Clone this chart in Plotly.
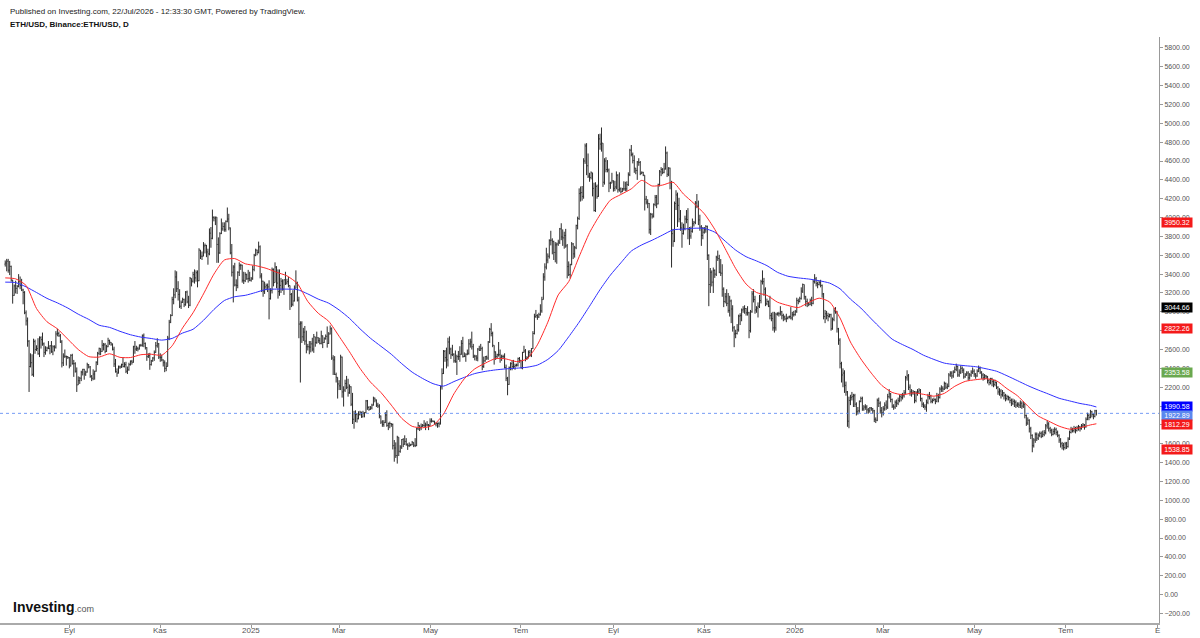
import pandas as pd
import plotly.graph_objects as go

# ---------------- data ----------------
month_starts = ['2024-07-20', '2024-08-01', '2024-09-01', '2024-10-01', '2024-11-01', '2024-12-01',
                '2025-01-01', '2025-02-01', '2025-03-01', '2025-04-01', '2025-05-01', '2025-06-01',
                '2025-07-01', '2025-08-01', '2025-09-01', '2025-10-01', '2025-11-01', '2025-12-01',
                '2026-01-01', '2026-02-01', '2026-03-01', '2026-04-01', '2026-05-01', '2026-06-01',
                '2026-07-01']
first_open = 3506

close_rows = [
    [3518, 3537, 3442, 3482, 3336, 3174, 3275, 3249, 3270, 3320, 3280, 3232],
    [3205, 2990, 2904, 2689, 2420, 2460, 2337, 2684, 2600, 2610, 2555, 2725, 2705, 2660, 2570, 2590, 2615, 2610, 2640, 2575,
     2630, 2625, 2765, 2770, 2745, 2680, 2458, 2530, 2528, 2525, 2515],
    [2425, 2538, 2450, 2450, 2370, 2225, 2270, 2295, 2360, 2390, 2340, 2360, 2440, 2415, 2315, 2295, 2340, 2370, 2465, 2560,
     2612, 2580, 2645, 2650, 2580, 2630, 2695, 2677, 2658, 2603],
    [2447, 2364, 2350, 2415, 2415, 2440, 2420, 2440, 2370, 2385, 2440, 2475, 2465, 2630, 2605, 2610, 2605, 2645, 2645, 2745,
     2665, 2620, 2525, 2535, 2440, 2480, 2510, 2570, 2640, 2660, 2520],
    [2515, 2490, 2460, 2400, 2420, 2720, 2890, 2960, 3130, 3180, 3370, 3245, 3185, 3060, 3100, 3130, 3075, 3210, 3105, 3070,
     3355, 3325, 3395, 3360, 3415, 3330, 3655, 3590, 3590, 3700],
    [3705, 3635, 3615, 3835, 3780, 4000, 3995, 4005, 3715, 3625, 3830, 3880, 3905, 3875, 3960, 3985, 3890, 3625, 3420, 3475,
     3285, 3280, 3420, 3490, 3495, 3335, 3330, 3395, 3350, 3355, 3335],
    [3350, 3450, 3600, 3655, 3630, 3690, 3380, 3325, 3220, 3265, 3280, 3265, 3140, 3225, 3450, 3310, 3475, 3305, 3215, 3280,
     3325, 3240, 3340, 3305, 3320, 3280, 3185, 3080, 3115, 3250, 3300],
    [3125, 2870, 2880, 2735, 2785, 2690, 2630, 2630, 2625, 2660, 2605, 2735, 2675, 2725, 2695, 2665, 2745, 2675, 2715, 2740,
     2665, 2765, 2820, 2510, 2490, 2335, 2305, 2235],
    [2215, 2520, 2150, 2170, 2240, 2200, 2140, 2205, 2020, 1860, 1920, 1910, 1865, 1910, 1935, 1885, 1925, 1930, 2055, 1985,
     1965, 1980, 2010, 2085, 2065, 2010, 2000, 1895, 1830, 1805, 1825],
    [1905, 1795, 1815, 1815, 1805, 1580, 1555, 1475, 1670, 1520, 1565, 1645, 1595, 1625, 1590, 1580, 1585, 1590, 1615, 1585,
     1580, 1760, 1795, 1770, 1785, 1795, 1790, 1800, 1800, 1795],
    [1840, 1840, 1835, 1810, 1815, 1815, 1810, 2205, 2345, 2580, 2515, 2490, 2680, 2605, 2545, 2550, 2480, 2470, 2525, 2525,
     2550, 2665, 2525, 2530, 2550, 2560, 2660, 2680, 2630, 2530, 2530],
    [2510, 2605, 2590, 2610, 2420, 2480, 2525, 2510, 2680, 2815, 2770, 2645, 2575, 2525, 2545, 2545, 2510, 2525, 2525, 2410,
     2295, 2230, 2410, 2450, 2420, 2420, 2430, 2435, 2505, 2485],
    [2405, 2570, 2585, 2505, 2515, 2570, 2540, 2610, 2770, 2950, 2960, 2945, 2970, 3010, 3130, 3370, 3475, 3550, 3590, 3755,
     3760, 3745, 3630, 3710, 3720, 3740, 3880, 3795, 3785, 3810, 3700],
    [3480, 3395, 3500, 3720, 3615, 3680, 3915, 3990, 4255, 4265, 4225, 4600, 4760, 4550, 4440, 4425, 4475, 4310, 4075, 4330,
     4225, 4835, 4780, 4790, 4375, 4600, 4510, 4505, 4365, 4365, 4390],
    [4310, 4325, 4450, 4295, 4305, 4275, 4305, 4305, 4305, 4350, 4455, 4715, 4670, 4605, 4525, 4500, 4590, 4585, 4470, 4480,
     4450, 4195, 4165, 4150, 3875, 4035, 4015, 4140, 4215, 4145],
    [4350, 4485, 4510, 4480, 4515, 4685, 4460, 4525, 4370, 3830, 3750, 4150, 4240, 4130, 3985, 3890, 3830, 3885, 3985, 3980,
     3875, 3805, 3855, 3935, 3950, 4155, 4120, 3975, 3900, 3810, 3845],
    [3870, 3905, 3600, 3290, 3420, 3315, 3440, 3400, 3580, 3565, 3420, 3410, 3240, 3110, 3160, 3090, 3015, 3115, 3030, 2830,
     2765, 2770, 2810, 2955, 2960, 3020, 3030, 3035, 2990, 2990],
    [2800, 3000, 3190, 3130, 3020, 3040, 3060, 3120, 3320, 3320, 3240, 3085, 3110, 3060, 2960, 2930, 2830, 2830, 2975, 2980,
     2980, 3000, 2960, 2945, 2925, 2930, 2945, 2950, 2935, 2970, 2970],
    [3000, 3120, 3110, 3140, 3220, 3290, 3160, 3110, 3090, 3080, 3120, 3090, 3320, 3350, 3300, 3290, 3310, 3280, 3190, 2950,
     2980, 2960, 2950, 2970, 2820, 2920, 3010, 3000, 2820, 2700, 2450],
    [2330, 2350, 2220, 2150, 1840, 2060, 2090, 2100, 2110, 2020, 1940, 1950, 2050, 2080, 1970, 1990, 1990, 1960, 1950, 1980,
     1970, 1950, 1860, 1850, 2060, 2030, 1950, 1930],
    [1970, 2010, 1990, 2100, 2130, 2070, 2000, 1990, 2040, 2030, 2060, 2100, 2090, 2110, 2140, 2300, 2320, 2200, 2150, 2140,
     2150, 2060, 2140, 2150, 2170, 2080, 2020, 2000, 1990, 2040, 2100],
    [2110, 2050, 2060, 2070, 2050, 2110, 2090, 2180, 2190, 2180, 2240, 2200, 2210, 2330, 2350, 2320, 2360, 2390, 2420, 2330,
     2360, 2400, 2380, 2310, 2330, 2350, 2300, 2330, 2360, 2370],
    [2340, 2320, 2370, 2400, 2360, 2330, 2300, 2320, 2310, 2270, 2250, 2290, 2260, 2230, 2250, 2200, 2150, 2160, 2120, 2140,
     2110, 2080, 2100, 2090, 2060, 2030, 2050, 2040, 2010, 2020, 2010],
    [2030, 2000, 2020, 1900, 1820, 1850, 1760, 1690, 1580, 1640, 1700, 1660, 1690, 1710, 1680, 1700, 1720, 1790, 1810, 1760,
     1740, 1700, 1730, 1750, 1720, 1690, 1640, 1600, 1580, 1560],
    [1600, 1570, 1650, 1720, 1750, 1740, 1760, 1740, 1770, 1780, 1760, 1790, 1800, 1780, 1860, 1900, 1880, 1940, 1910, 1890,
     1950, 1922.89],
]

high_rows = [
    [3545, 3562, 3562, 3540, 3490, 3340, 3290, 3330, 3285, 3400, 3375, 3350],
    [3245, 3220, 3015, 2940, 2700, 2560, 2550, 2715, 2705, 2645, 2720, 2740, 2740, 2780, 2675, 2635, 2630, 2690, 2645, 2690,
     2645, 2645, 2795, 2820, 2790, 2765, 2700, 2560, 2600, 2535, 2530],
    [2520, 2550, 2555, 2490, 2465, 2410, 2315, 2310, 2375, 2395, 2395, 2375, 2460, 2445, 2425, 2330, 2390, 2375, 2475, 2575,
     2620, 2610, 2700, 2670, 2670, 2650, 2725, 2705, 2680, 2665],
    [2630, 2500, 2400, 2430, 2430, 2450, 2520, 2465, 2470, 2420, 2460, 2485, 2490, 2640, 2690, 2640, 2630, 2655, 2660, 2760,
     2770, 2675, 2625, 2560, 2565, 2490, 2520, 2590, 2680, 2720, 2670],
    [2560, 2545, 2495, 2485, 2465, 2745, 2915, 2975, 3160, 3250, 3440, 3430, 3325, 3240, 3120, 3150, 3140, 3220, 3225, 3170,
     3370, 3355, 3425, 3450, 3440, 3440, 3675, 3650, 3640, 3740],
    [3725, 3710, 3670, 3885, 3900, 4085, 4015, 4010, 4005, 3790, 3845, 3990, 3950, 3950, 3970, 4107, 4040, 3895, 3720, 3495,
     3520, 3345, 3430, 3525, 3510, 3500, 3425, 3420, 3405, 3445, 3425],
    [3370, 3490, 3615, 3670, 3660, 3745, 3705, 3410, 3330, 3320, 3300, 3300, 3335, 3250, 3470, 3460, 3525, 3485, 3450, 3450,
     3360, 3345, 3345, 3425, 3350, 3370, 3240, 3200, 3230, 3280, 3440],
    [3320, 3160, 2900, 2900, 2830, 2850, 2800, 2660, 2690, 2690, 2725, 2765, 2735, 2790, 2730, 2725, 2800, 2750, 2730, 2760,
     2845, 2785, 2855, 2835, 2540, 2530, 2355, 2300],
    [2275, 2545, 2525, 2210, 2280, 2320, 2290, 2230, 2210, 2140, 1950, 1955, 1925, 1945, 1950, 1940, 1950, 1935, 2065, 2065,
     2000, 2000, 2025, 2100, 2090, 2070, 2035, 2020, 1900, 1850, 1850],
    [1935, 1955, 1825, 1835, 1820, 1815, 1640, 1615, 1685, 1670, 1585, 1650, 1660, 1690, 1660, 1605, 1615, 1600, 1630, 1610,
     1660, 1770, 1830, 1795, 1815, 1810, 1850, 1825, 1840, 1810],
    [1870, 1870, 1850, 1845, 1830, 1825, 1835, 2215, 2400, 2595, 2595, 2620, 2725, 2740, 2620, 2650, 2560, 2590, 2545, 2585,
     2635, 2700, 2735, 2570, 2560, 2600, 2710, 2715, 2790, 2660, 2545],
    [2540, 2615, 2640, 2660, 2630, 2525, 2530, 2535, 2690, 2830, 2880, 2790, 2645, 2580, 2555, 2680, 2600, 2545, 2545, 2560,
     2440, 2310, 2420, 2465, 2485, 2490, 2450, 2450, 2515, 2520],
    [2490, 2575, 2640, 2605, 2530, 2590, 2595, 2615, 2795, 2980, 3020, 2975, 2990, 3080, 3160, 3410, 3515, 3680, 3620, 3770,
     3860, 3780, 3755, 3740, 3735, 3765, 3890, 3940, 3875, 3850, 3880],
    [3720, 3535, 3510, 3740, 3730, 3700, 3925, 4010, 4310, 4330, 4335, 4630, 4785, 4790, 4680, 4475, 4490, 4475, 4370, 4375,
     4350, 4885, 4890, 4956, 4780, 4630, 4640, 4610, 4520, 4380, 4475],
    [4395, 4390, 4490, 4460, 4480, 4320, 4315, 4385, 4380, 4385, 4480, 4730, 4770, 4690, 4660, 4525, 4600, 4630, 4600, 4490,
     4485, 4450, 4230, 4195, 4155, 4050, 4045, 4150, 4240, 4240],
    [4360, 4505, 4535, 4525, 4580, 4755, 4700, 4535, 4530, 4390, 3880, 4170, 4290, 4265, 4210, 4080, 3950, 3935, 4020, 4080,
     4100, 3900, 3905, 3990, 3965, 4175, 4250, 4180, 4030, 3920, 3900],
    [3900, 3920, 3915, 3610, 3465, 3440, 3470, 3450, 3595, 3650, 3605, 3560, 3505, 3260, 3200, 3240, 3200, 3170, 3130, 3070,
     2850, 2810, 2870, 2970, 2985, 3035, 3060, 3070, 3040, 3060],
    [3000, 3020, 3220, 3240, 3170, 3060, 3100, 3180, 3340, 3440, 3360, 3260, 3140, 3120, 3170, 2990, 3000, 3000, 2990, 2995,
     3000, 3060, 3010, 2980, 2960, 2980, 2950, 2960, 3050, 3000, 3010],
    [3020, 3150, 3140, 3160, 3260, 3300, 3290, 3170, 3140, 3100, 3140, 3160, 3340, 3400, 3370, 3320, 3330, 3340, 3290, 3200,
     3020, 3010, 2990, 2980, 2980, 2940, 3040, 3050, 3010, 2830, 2720],
    [2470, 2400, 2380, 2260, 2160, 2100, 2120, 2150, 2130, 2130, 2040, 1990, 2060, 2100, 2100, 2010, 2020, 2010, 1980, 1990,
     1990, 1980, 1960, 1880, 2080, 2090, 2050, 1990],
    [2000, 2040, 2060, 2130, 2180, 2140, 2080, 2020, 2060, 2070, 2090, 2120, 2130, 2140, 2170, 2320, 2380, 2340, 2230, 2180,
     2170, 2160, 2160, 2180, 2190, 2180, 2090, 2040, 2020, 2070, 2130],
    [2150, 2120, 2080, 2090, 2080, 2140, 2130, 2200, 2220, 2210, 2260, 2250, 2240, 2350, 2370, 2370, 2380, 2420, 2450, 2430,
     2390, 2430, 2420, 2400, 2350, 2370, 2370, 2350, 2380, 2410],
    [2390, 2350, 2390, 2430, 2420, 2370, 2350, 2340, 2330, 2320, 2290, 2300, 2300, 2280, 2280, 2260, 2210, 2190, 2180, 2170,
     2150, 2130, 2120, 2110, 2100, 2080, 2080, 2070, 2060, 2040, 2040],
    [2060, 2050, 2050, 2030, 1910, 1880, 1860, 1780, 1700, 1660, 1720, 1720, 1710, 1730, 1730, 1740, 1745, 1810, 1850, 1830,
     1780, 1760, 1760, 1775, 1770, 1740, 1700, 1660, 1620, 1610],
    [1620, 1620, 1670, 1740, 1780, 1770, 1790, 1780, 1790, 1800, 1790, 1810, 1820, 1810, 1880, 1930, 1920, 1960, 1950, 1920,
     1960, 1960],
]

low_rows = [
    [3480, 3430, 3415, 3390, 3320, 3087, 3170, 3195, 3190, 3260, 3240, 3220],
    [3080, 2975, 2855, 2630, 2150, 2410, 2320, 2310, 2555, 2585, 2545, 2520, 2610, 2640, 2520, 2545, 2580, 2605, 2550, 2565,
     2540, 2580, 2610, 2740, 2735, 2670, 2410, 2425, 2510, 2430, 2500],
    [2400, 2420, 2440, 2310, 2355, 2150, 2255, 2235, 2265, 2325, 2280, 2320, 2355, 2400, 2300, 2265, 2275, 2280, 2365, 2435,
     2540, 2540, 2575, 2590, 2560, 2575, 2625, 2650, 2640, 2590],
    [2415, 2355, 2310, 2345, 2395, 2405, 2410, 2410, 2350, 2340, 2375, 2430, 2440, 2460, 2555, 2585, 2580, 2600, 2630, 2630,
     2625, 2600, 2480, 2510, 2385, 2430, 2470, 2480, 2565, 2620, 2500],
    [2470, 2475, 2420, 2360, 2370, 2420, 2700, 2880, 2955, 3080, 3145, 3210, 3120, 3040, 3030, 3095, 3050, 3065, 3090, 3040,
     3060, 3270, 3310, 3300, 3320, 3260, 3325, 3560, 3550, 3590],
    [3620, 3580, 3500, 3600, 3680, 3770, 3960, 3920, 3520, 3520, 3615, 3825, 3860, 3850, 3850, 3950, 3865, 3610, 3375, 3100,
     3270, 3220, 3250, 3380, 3445, 3310, 3295, 3315, 3340, 3310, 3325],
    [3320, 3340, 3430, 3590, 3600, 3620, 3355, 3210, 3160, 3190, 3230, 3210, 2920, 3130, 3195, 3270, 3315, 3250, 3140, 3170,
     3200, 3225, 3180, 3285, 3290, 3260, 3020, 3050, 3060, 3110, 3280],
    [3110, 2720, 2250, 2670, 2690, 2650, 2560, 2590, 2550, 2570, 2580, 2565, 2630, 2660, 2670, 2655, 2655, 2615, 2670, 2705,
     2620, 2660, 2760, 2490, 2330, 2330, 2250, 2080],
    [2170, 2170, 2090, 1995, 2150, 2180, 2100, 2130, 2000, 1810, 1760, 1830, 1825, 1860, 1900, 1875, 1880, 1880, 1925, 1960,
     1950, 1960, 1965, 2005, 2040, 1990, 1980, 1870, 1810, 1780, 1780],
    [1820, 1780, 1745, 1765, 1780, 1540, 1410, 1450, 1390, 1470, 1505, 1545, 1565, 1590, 1580, 1535, 1565, 1575, 1585, 1565,
     1565, 1575, 1745, 1735, 1745, 1780, 1780, 1745, 1785, 1745],
    [1790, 1825, 1830, 1805, 1785, 1770, 1775, 1805, 2175, 2340, 2470, 2400, 2420, 2550, 2500, 2530, 2460, 2460, 2330, 2490,
     2470, 2545, 2515, 2520, 2470, 2540, 2545, 2620, 2600, 2510, 2485],
    [2480, 2475, 2585, 2590, 2380, 2405, 2470, 2490, 2490, 2670, 2740, 2625, 2440, 2490, 2505, 2525, 2460, 2480, 2500, 2400,
     2265, 2115, 2225, 2380, 2380, 2395, 2385, 2420, 2420, 2460],
    [2400, 2390, 2565, 2475, 2490, 2505, 2525, 2520, 2605, 2760, 2935, 2915, 2935, 2960, 2990, 3130, 3330, 3450, 3515, 3565,
     3705, 3610, 3550, 3525, 3510, 3700, 3720, 3760, 3700, 3670, 3680],
    [3355, 3380, 3355, 3495, 3560, 3575, 3665, 3875, 3975, 4170, 4180, 4200, 4570, 4450, 4420, 4380, 4405, 4225, 4065, 4060,
     4200, 4220, 4720, 4700, 4325, 4350, 4480, 4480, 4270, 4305, 4365],
    [4275, 4280, 4300, 4265, 4275, 4255, 4270, 4285, 4280, 4280, 4335, 4440, 4650, 4575, 4475, 4460, 4400, 4550, 4450, 4460,
     4440, 4075, 4140, 4100, 3830, 3815, 3990, 4000, 4120, 4100],
    [4140, 4330, 4440, 4460, 4470, 4510, 4430, 4440, 4300, 3470, 3690, 3740, 4080, 3900, 3950, 3860, 3680, 3820, 3865, 3940,
     3770, 3710, 3775, 3840, 3905, 3930, 4100, 3920, 3860, 3700, 3770],
    [3830, 3840, 3550, 3060, 3200, 3270, 3200, 3360, 3380, 3540, 3410, 3380, 3160, 3050, 3090, 3060, 2990, 2950, 2880, 2790,
     2625, 2720, 2760, 2790, 2860, 2900, 2990, 2980, 2960, 2960],
    [2720, 2780, 2990, 3100, 2980, 2990, 2940, 3040, 3090, 3290, 3170, 3060, 3070, 3050, 2920, 2900, 2800, 2780, 2800, 2960,
     2950, 2960, 2920, 2900, 2910, 2890, 2920, 2930, 2920, 2910, 2950],
    [2960, 2990, 3080, 3100, 3130, 3200, 3130, 3060, 3050, 3060, 3070, 3060, 3080, 3300, 3270, 3250, 3280, 3260, 3150, 2920,
     2880, 2920, 2900, 2940, 2800, 2810, 2900, 2980, 2780, 2650, 2400],
    [2250, 2200, 2140, 2110, 1780, 1765, 2010, 2060, 1990, 1990, 1900, 1910, 1930, 2040, 1950, 1950, 1960, 1920, 1920, 1930,
     1950, 1920, 1830, 1820, 1840, 1990, 1920, 1880],
    [1900, 1950, 1960, 1970, 2080, 2040, 1980, 1960, 1970, 1990, 2010, 2040, 2050, 2070, 2090, 2130, 2270, 2170, 2110, 2100,
     2120, 2030, 2040, 2110, 2130, 2050, 1990, 1980, 1960, 1940, 2020],
    [2070, 2030, 2030, 2050, 2020, 2040, 2040, 2080, 2150, 2150, 2170, 2180, 2180, 2200, 2310, 2290, 2300, 2350, 2370, 2310,
     2310, 2340, 2350, 2290, 2300, 2320, 2270, 2280, 2310, 2340],
    [2310, 2290, 2310, 2360, 2340, 2290, 2270, 2280, 2290, 2240, 2220, 2230, 2210, 2200, 2210, 2180, 2120, 2110, 2080, 2100,
     2070, 2050, 2060, 2060, 2030, 2000, 2010, 1990, 1980, 1990, 1980],
    [1980, 1970, 1980, 1870, 1790, 1800, 1720, 1650, 1510, 1560, 1610, 1630, 1640, 1670, 1660, 1670, 1680, 1700, 1760, 1730,
     1710, 1680, 1690, 1700, 1690, 1670, 1610, 1560, 1540, 1530],
    [1540, 1545, 1560, 1640, 1710, 1720, 1720, 1710, 1730, 1740, 1730, 1750, 1770, 1750, 1770, 1850, 1850, 1870, 1880, 1860,
     1880, 1900],
]

# moving averages, one value per week + last day
ma_start = '2024-07-20'
ma_last_day = '2026-07-22'
red_ma = [3360, 3350, 3280, 3035, 2895, 2820, 2710, 2600, 2525, 2520,
          2555, 2517, 2515, 2545, 2550, 2540, 2640, 2830, 2990, 3190,
          3400, 3550, 3565, 3510, 3490, 3462, 3420, 3382, 3300, 3110,
          2985, 2900, 2740, 2575, 2400, 2255, 2145, 2010, 1870, 1785,
          1770, 1795, 1915, 2130, 2290, 2395, 2455, 2505, 2500, 2472,
          2500, 2650, 2890, 3180, 3320, 3585, 3840, 4030, 4185, 4245,
          4305, 4395, 4335, 4345, 4375, 4250, 4150, 4040, 3875, 3670,
          3460, 3295, 3205, 3175, 3103, 3068, 3045, 3100, 3145, 3105,
          2935, 2680, 2500, 2350, 2220, 2145, 2120, 2140, 2125, 2105,
          2135, 2210, 2262, 2280, 2290, 2268, 2185, 2110, 2000, 1895,
          1840, 1787, 1755, 1770, 1800, 1812.29]
blue_ma = [3315, 3310, 3265, 3205, 3143, 3095, 3040, 2975, 2920, 2858,
           2835, 2793, 2757, 2732, 2717, 2700, 2718, 2775, 2815, 2910,
           3025, 3120, 3160, 3175, 3205, 3238, 3241, 3241, 3236, 3190,
           3135, 3092, 3020, 2930, 2820, 2720, 2635, 2550, 2450, 2360,
           2293, 2238, 2212, 2260, 2305, 2345, 2368, 2384, 2395, 2402,
           2412, 2435, 2495, 2590, 2735, 2890, 3060, 3235, 3390, 3520,
           3645, 3710, 3760, 3815, 3870, 3878, 3887, 3885, 3845, 3750,
           3655, 3585, 3540, 3490, 3420, 3378, 3360, 3348, 3330, 3305,
           3245, 3135, 3040, 2925, 2815, 2710, 2652, 2600, 2540, 2495,
           2456, 2440, 2428, 2418, 2396, 2370, 2322, 2270, 2217, 2170,
           2127, 2083, 2055, 2028, 2008, 1990.58]

# price labels on the right scale
label_values = [3950.32, 3044.66, 2822.26, 2353.58, 1990.58, 1922.89, 1812.29, 1538.85]
label_colors = ['#f41a1a', '#000000', '#f41a1a', '#6aa84f', '#0000ff', '#5b88ee', '#f41a1a', '#f41a1a']
label_shift = [0, 0, 0, 0, 0, -2, -1, 0]
last_price = 1922.89

tick_dates = ['2024-09-01', '2024-11-01', '2025-01-01', '2025-03-01', '2025-05-01', '2025-07-01',
              '2025-09-01', '2025-11-01', '2026-01-01', '2026-03-01', '2026-05-01', '2026-07-01', '2026-09-01']
tick_text = ['Eyl', 'Kas', '2025', 'Mar', 'May', 'Tem', 'Eyl', 'Kas', '2026', 'Mar', 'May', 'Tem', 'E']

# ---------------- build series ----------------
dates, closes, highs, lows = [], [], [], []
for start, cr, hr, lr in zip(month_starts, close_rows, high_rows, low_rows):
    d0 = pd.Timestamp(start)
    n = min(len(cr), len(hr), len(lr))
    for i in range(n):
        dates.append(d0 + pd.Timedelta(days=i))
        closes.append(cr[i])
        highs.append(hr[i])
        lows.append(lr[i])
opens = [first_open] + closes[:-1]
highs = [max(h, o, c) for h, o, c in zip(highs, opens, closes)]
lows = [min(l, o, c) for l, o, c in zip(lows, opens, closes)]

ma_dates = list(pd.date_range(ma_start, periods=len(red_ma) - 1, freq='7D')) + [pd.Timestamp(ma_last_day)]

# ---------------- figure ----------------
W, H = 1200, 638
ML, MR, MT, MB = 0, 41, 37, 15


def px_x(x):
    return (x - ML) / (W - ML - MR)


def px_y(y):
    return (H - MB - y) / (H - MT - MB)


fig = go.Figure()
fig.add_trace(go.Ohlc(
    x=dates, open=opens, high=highs, low=lows, close=closes,
    increasing=dict(line=dict(color='#2b2b2b', width=1)),
    decreasing=dict(line=dict(color='#2b2b2b', width=1)),
    tickwidth=0.45, hoverinfo='skip', showlegend=False))
fig.add_trace(go.Scatter(x=ma_dates, y=blue_ma, mode='lines', line=dict(color='#2f2fff', width=1, shape='spline', smoothing=0.6),
                         hoverinfo='skip', showlegend=False))
fig.add_trace(go.Scatter(x=ma_dates, y=red_ma, mode='lines', line=dict(color='#ff2a2a', width=1, shape='spline', smoothing=0.6),
                         hoverinfo='skip', showlegend=False))

fig.add_shape(type='line', xref='paper', x0=0, x1=1, yref='y', y0=last_price, y1=last_price,
              line=dict(color='rgba(70,120,240,0.75)', width=1, dash='dot'))

annotations = []
for v, col, sh in zip(label_values, label_colors, label_shift):
    annotations.append(dict(xref='paper', x=1, xanchor='left', xshift=2, yref='y', y=v, yanchor='middle', yshift=sh,
                            text=f'{v:.2f}', showarrow=False, bgcolor=col, borderpad=1, width=28,
                            font=dict(family='Liberation Sans, Arial', size=7, color='#ffffff')))
# month labels under the time axis
for td, tt in zip(tick_dates, tick_text):
    annotations.append(dict(xref='x', x=td, yref='paper', y=px_y(630), xanchor='center', yanchor='middle',
                            text=tt, showarrow=False,
                            font=dict(family='Liberation Sans, Arial', size=8, color='#555555')))
annotations.append(dict(xref='paper', yref='paper', x=px_x(8), y=px_y(11), xanchor='left', yanchor='middle',
                        text='Published on Investing.com, 22/Jul/2026 - 12:33:30 GMT, Powered by TradingView.',
                        showarrow=False, font=dict(family='Liberation Sans, Arial', size=8, color='#222222')))
annotations.append(dict(xref='paper', yref='paper', x=px_x(8), y=px_y(25), xanchor='left', yanchor='middle',
                        text='<b>ETH/USD, Binance:ETH/USD, D</b>',
                        showarrow=False, font=dict(family='Liberation Sans, Arial', size=8, color='#111111')))
annotations.append(dict(xref='paper', yref='paper', x=px_x(11), y=px_y(607), xanchor='left', yanchor='middle',
                        text="<b>Investing</b><span style='font-size:9px;color:#555555'>.com</span>",
                        showarrow=False, font=dict(family='Liberation Sans, Arial', size=14, color='#111111')))

fig.update_layout(
    width=W, height=H,
    margin=dict(l=ML, r=MR, t=MT, b=MB, pad=0),
    paper_bgcolor='white', plot_bgcolor='white',
    font=dict(family='Liberation Sans, Arial', color='#555555'),
    showlegend=False,
    annotations=annotations,
    xaxis=dict(type='date', range=['2024-07-16 12:00', '2026-09-02'], rangeslider=dict(visible=False),
               tickmode='array', tickvals=tick_dates, showticklabels=False,
               ticks='outside', ticklen=3, tickcolor='#999999',
               showline=True, linecolor='#aaaaaa', linewidth=2, showgrid=False, zeroline=False,
               automargin=False, fixedrange=True),
    yaxis=dict(side='right', range=[-301.5, 5916], tick0=0, dtick=200, tickformat='.2f',
               ticks='outside', ticklen=3, tickcolor='#999999', tickfont=dict(size=7, color='#555555'),
               showline=True, linecolor='#999999', linewidth=1, showgrid=False, zeroline=False,
               automargin=False, fixedrange=True),
)

fig.write_html('out.html')
